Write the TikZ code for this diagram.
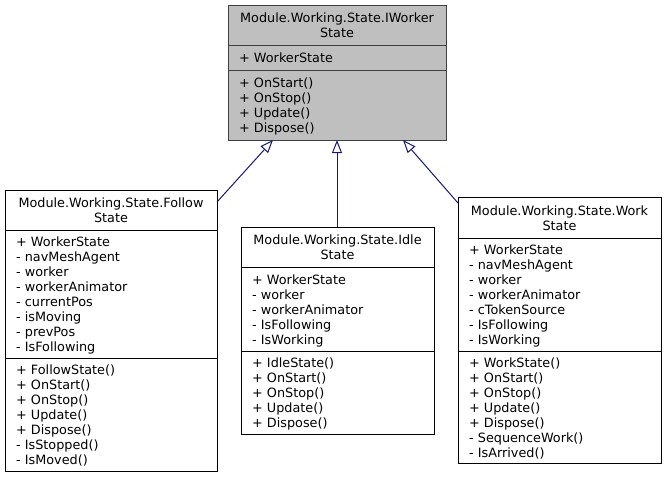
\documentclass[tikz,border=0pt]{standalone}
\usepackage{fontspec}
\setmainfont{DejaVu Sans}
\usetikzlibrary{arrows.meta}
\definecolor{edgeblue}{HTML}{191970}
\definecolor{topfill}{HTML}{BFBFBF}
\definecolor{topdraw}{HTML}{404040}
\begin{document}
\begin{tikzpicture}[x=1pt,y=-1pt,
  box/.style={draw=black, line width=1pt, fill=white, inner sep=0pt, outer sep=0pt, anchor=north west},
  sepline/.style={line width=1pt},
  txt/.style={font=\fontsize{12.8}{15}\selectfont, inner sep=0pt, anchor=base west},
  ttl/.style={font=\fontsize{12.8}{15}\selectfont, inner sep=0pt, anchor=base},
  inherit/.style={draw=edgeblue, line width=1pt, -{Triangle[open, length=13pt, width=10pt]}}]
\useasboundingbox[fill=white] (0,0) rectangle (667,477);

% ---- IWorkerState (top) ----
\node[box, fill=topfill, draw=topdraw, minimum width=218pt, minimum height=135pt] (iws) at (228,5) {};
\draw[sepline, topdraw] (iws.west |- 0,45) -- (iws.east |- 0,45);
\draw[sepline, topdraw] (iws.west |- 0,70) -- (iws.east |- 0,70);
\node[ttl] (iwsT1) at (337,22.5) {Module.Working.State.IWorker};
\node[ttl] (iwsT2) at (337,37.5) {State};
\node[txt] (iwsA1) at (239,62.5) {+ WorkerState};
\foreach[count=\i] \t in {+ OnStart(), + OnStop(), + Update(), + Dispose()}
  \node[txt] (iwsM\i) at (239,{72.5+15*\i}) {\t};

% ---- FollowState ----
\node[box, minimum width=212pt, minimum height=281pt] (fol) at (5,190) {};
\draw[sepline] (fol.west |- 0,230) -- (fol.east |- 0,230);
\draw[sepline] (fol.west |- 0,358) -- (fol.east |- 0,358);
\node[ttl] (folT1) at (111,207.5) {Module.Working.State.Follow};
\node[ttl] (folT2) at (111,222.5) {State};
\foreach[count=\i] \t in {+ WorkerState, - navMeshAgent, - worker, - workerAnimator, - currentPos, - isMoving, - prevPos, - IsFollowing}
  \node[txt] (folA\i) at (16,{231.5+15*\i}) {\t};
\foreach[count=\i] \t in {+ FollowState(), + OnStart(), + OnStop(), + Update(), + Dispose(), - IsStopped(), - IsMoved()}
  \node[txt] (folM\i) at (16,{359.5+15*\i}) {\t};

% ---- IdleState ----
\node[box, minimum width=193pt, minimum height=207pt] (idl) at (241,227) {};
\draw[sepline] (idl.west |- 0,267) -- (idl.east |- 0,267);
\draw[sepline] (idl.west |- 0,351) -- (idl.east |- 0,351);
\node[ttl] (idlT1) at (337.5,244.5) {Module.Working.State.Idle};
\node[ttl] (idlT2) at (337.5,259.5) {State};
\foreach[count=\i] \t in {+ WorkerState, - worker, - workerAnimator, - IsFollowing, - IsWorking}
  \node[txt] (idlA\i) at (252,{269+15*\i}) {\t};
\foreach[count=\i] \t in {+ IdleState(), + OnStart(), + OnStop(), + Update(), + Dispose()}
  \node[txt] (idlM\i) at (252,{352.5+15*\i}) {\t};

% ---- WorkState ----
\node[box, minimum width=203pt, minimum height=266pt] (wrk) at (458,197) {};
\draw[sepline] (wrk.west |- 0,238) -- (wrk.east |- 0,238);
\draw[sepline] (wrk.west |- 0,351) -- (wrk.east |- 0,351);
\node[ttl] (wrkT1) at (559.5,215) {Module.Working.State.Work};
\node[ttl] (wrkT2) at (559.5,230) {State};
\foreach[count=\i] \t in {+ WorkerState, - navMeshAgent, - worker, - workerAnimator, - cTokenSource, - IsFollowing, - IsWorking}
  \node[txt] (wrkA\i) at (469,{239.5+15*\i}) {\t};
\foreach[count=\i] \t in {+ WorkState(), + OnStart(), + OnStop(), + Update(), + Dispose(), - SequenceWork(), - IsArrived()}
  \node[txt] (wrkM\i) at (469,{352+15*\i}) {\t};

% ---- connectors ----
\coordinate (tipF) at (273,0 |- iws.south);
\coordinate (tipI) at (337,0 |- iws.south);
\coordinate (tipW) at (403,0 |- iws.south);
\coordinate (endF) at (fol.east |- 0,202);
\coordinate (endW) at (wrk.west |- 0,203);
\draw[inherit] (endF) -- (tipF);
\draw[inherit] (idl.north -| tipI) -- (tipI);
\draw[inherit] (endW) -- (tipW);
\end{tikzpicture}
\end{document}
